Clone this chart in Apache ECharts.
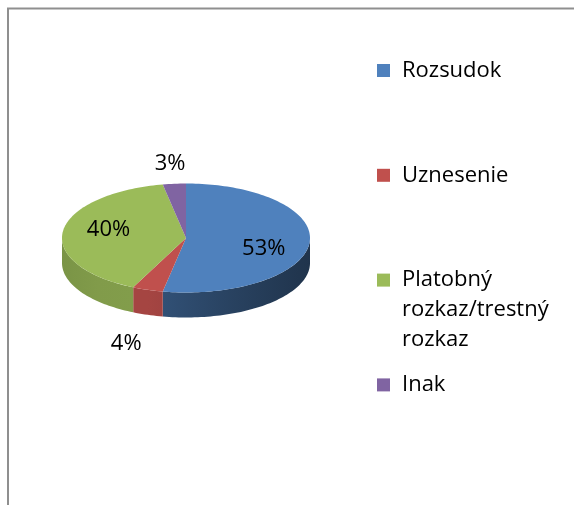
<!DOCTYPE html>
<html><head><meta charset="utf-8">
<script src="https://cdn.jsdelivr.net/npm/echarts@6/dist/echarts.min.js"></script>
<style>html,body{margin:0;padding:0;background:#fff}#c{width:574px;height:505px}</style>
</head><body><div id="c"></div>
<script>
const categories = ['Rozsudok', 'Uznesenie', 'Platobný rozkaz/trestný rozkaz', 'Inak'];
const values = [53, 4, 40, 3];
const colors = ['#4F81BD', '#C0504D', '#9BBB59', '#8064A2'];
// side-face shading factors (left end, middle, right end) per slice
const sideShade = [[0.62, 0.5, 0.4], [0.86, 0.86, 0.84], [0.79, 0.83, 0.84], [0.8, 0.8, 0.8]];

const PIE = {cx: 186, cy: 238, rx: 124, ry: 54.5, depth: 25};
const FONT = '"Open Sans", "Liberation Sans", sans-serif';
const total = values.reduce((a, b) => a + b, 0);
const starts = [];
(function () { let acc = 0; values.forEach(v => { starts.push(acc / total * 2 * Math.PI); acc += v; }); })();

function shade(hex, f) {
  const n = parseInt(hex.slice(1), 16);
  const r = Math.round((n >> 16) * f), g = Math.round(((n >> 8) & 255) * f), b = Math.round((n & 255) * f);
  return 'rgb(' + r + ',' + g + ',' + b + ')';
}
function pt(a, dy) {
  return [PIE.cx + PIE.rx * Math.sin(a), PIE.cy - PIE.ry * Math.cos(a) + (dy || 0)];
}

function makeRender(idx) {
  return function (params, api) {
    const v = api.value(0);
    const a0 = starts[idx], a1 = a0 + v / total * 2 * Math.PI;
    const children = [];
    const N = Math.max(8, Math.ceil((a1 - a0) / (Math.PI / 120)));
    const top = [[PIE.cx, PIE.cy]];
    for (let i = 0; i <= N; i++) top.push(pt(a0 + (a1 - a0) * i / N));
    const s0 = Math.max(a0, Math.PI / 2), s1 = Math.min(a1, 3 * Math.PI / 2);
    if (s1 > s0) {
      const M = Math.max(4, Math.ceil((s1 - s0) / (Math.PI / 120)));
      const side = [];
      for (let i = 0; i <= M; i++) side.push(pt(s0 + (s1 - s0) * i / M));
      for (let i = M; i >= 0; i--) side.push(pt(s0 + (s1 - s0) * i / M, PIE.depth));
      const xs = side.map(p => p[0]);
      const xmin = Math.min.apply(null, xs), xmax = Math.max.apply(null, xs);
      const c = colors[idx], sh = sideShade[idx];
      children.push({
        type: 'polygon', z2: 1, shape: {points: side},
        style: {fill: {type: 'linear', global: true, x: xmin, y: 0, x2: xmax, y2: 0,
          colorStops: [
            {offset: 0, color: shade(c, sh[0])},
            {offset: 0.5, color: shade(c, sh[1])},
            {offset: 1, color: shade(c, sh[2])}
          ]}}
      });
    }
    children.push({type: 'polygon', z2: 5, shape: {points: top}, style: {fill: colors[idx]}});
    // label
    const frac = v / total;
    const mid = (a0 + a1) / 2;
    const sn = Math.sin(mid), cs = Math.cos(mid);
    let lx, ly;
    if (frac >= 0.1) {
      lx = PIE.cx + PIE.rx * sn * 0.63;
      ly = PIE.cy - PIE.ry * cs * 0.63 + 6 * sn + 2;
    } else {
      const ex = PIE.rx * sn, ey = -PIE.ry * cs;
      const len = Math.hypot(ex, ey);
      const gap = 20 + 17 * Math.max(0, -cs);
      lx = PIE.cx + ex + ex / len * gap;
      ly = PIE.cy + ey + ey / len * gap + (cs < 0 ? PIE.depth : 0);
    }
    children.push({
      type: 'text', z2: 10, x: lx, y: ly,
      style: {text: Math.round(frac * 100) + '%', fill: '#000', font: '22px ' + FONT, align: 'center', verticalAlign: 'middle'}
    });
    return {type: 'group', children};
  };
}

const LEG = {left: 377, firstCenter: 70.5, step: 104.8, lineHeight: 30};
const legends = categories.map((name, i) => {
  const L = name.split(' ').length;
  return {
    data: [name], orient: 'vertical', left: LEG.left,
    top: LEG.firstCenter + LEG.step * i - (2 * L - 1) * LEG.lineHeight / 2,
    padding: 0, icon: 'rect', itemWidth: 13, itemHeight: 13, selectedMode: false,
    formatter: n => { const p = n.split(' '); return '\n'.repeat(p.length - 1) + p.join('\n'); },
    textStyle: {fontFamily: FONT, fontSize: 22, color: '#000', lineHeight: LEG.lineHeight, padding: [0, 0, 0, 7]}
  };
});

const chart = echarts.init(document.getElementById('c'), null, {renderer: 'canvas'});
chart.setOption({
  animation: false,
  backgroundColor: '#fff',
  legend: legends,
  graphic: [{type: 'polyline', shape: {points: [[8, 505], [8, 8.5], [574, 8.5]]}, style: {stroke: '#8f8f8f', lineWidth: 2, fill: null}, silent: true}],
  series: categories.map((name, i) => ({
    type: 'custom', name, coordinateSystem: 'none', itemStyle: {color: colors[i]},
    renderItem: makeRender(i), data: [values[i]]
  }))
});
</script></body></html>
